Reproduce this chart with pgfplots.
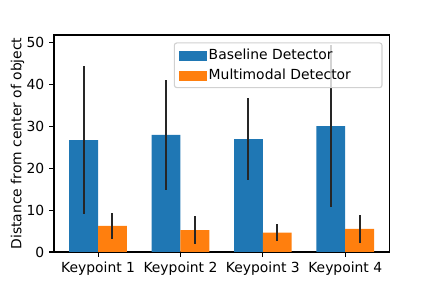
\documentclass[border=0pt]{standalone}
\usepackage{fontspec}
\setmainfont{DejaVu Sans}
\usepackage{pgfplots}
\pgfplotsset{compat=1.18}
\definecolor{mblue}{HTML}{1F77B4}
\definecolor{morange}{HTML}{FF7F0E}
\begin{document}
\fontsize{13.9}{16.7}\selectfont
\begin{tikzpicture}
\useasboundingbox (-54pt,-36pt) rectangle (378pt,252pt);
\begin{axis}[
  at={(0pt,0pt)}, anchor=south west, scale only axis,
  width=335.3pt, height=217pt,
  xmin=-0.535, xmax=3.535, ymin=0, ymax=51.74,
  xtick={0,1,2,3}, xticklabels={Keypoint 1,Keypoint 2,Keypoint 3,Keypoint 4},
  ytick={0,10,...,50},
  tick align=outside, major tick length=4.9pt,
  xtick pos=bottom, ytick pos=left,
  tick style={line width=1.1pt, black},
  axis line style={line width=1.1pt},
  /pgf/number format/assume math mode=true,
  tick label style={font=\fontsize{13.9}{16.7}\selectfont},
  ylabel={Distance from center of object},
  ylabel style={at={(axis description cs:-0.109,0.5)}, anchor=center, font=\fontsize{13.9}{16.7}\selectfont},
  legend image code/.code={\fill[#1, fill opacity=1, sharp corners] (0pt,-6pt) rectangle (28pt,4.7pt);},
  legend cell align=left,
  legend style={at={(0.980,0.966)}, anchor=north east, draw=black!18, line width=1.1pt,
    rounded corners=2.5pt, fill=white, fill opacity=0.8, text opacity=1,
    font=\fontsize{13.9}{16.7}\selectfont, inner xsep=4.4pt, inner ysep=5pt, row sep=5.4pt,
    nodes={inner xsep=2pt, inner ysep=1pt}},
]
\addplot[ybar, bar width=0.35, bar shift=-0.175, fill=mblue, draw=none]
  coordinates {(0,26.7) (1,27.9) (2,26.9) (3,30.0)};
\addlegendentry{Baseline Detector\hspace*{43pt}}
\addplot[ybar, bar width=0.35, bar shift=0.175, fill=morange, draw=none]
  coordinates {(0,6.2) (1,5.2) (2,4.6) (3,5.5)};
\addlegendentry{Multimodal Detector}
\addplot[draw=none, no markers, forget plot,
  error bars/.cd, y dir=both, y explicit, error mark=none,
  error bar style={draw=black!85, line width=2pt}]
  coordinates {(-0.175,26.7) +- (0,17.6) (0.825,27.9) +- (0,13.2) (1.825,26.9) +- (0,9.7) (2.825,30.0) +- (0,19.3)
               (0.175,6.2) +- (0,3.2) (1.175,5.2) +- (0,3.3) (2.175,4.6) +- (0,2.0) (3.175,5.5) +- (0,3.4)};
\end{axis}
\end{tikzpicture}
\end{document}
